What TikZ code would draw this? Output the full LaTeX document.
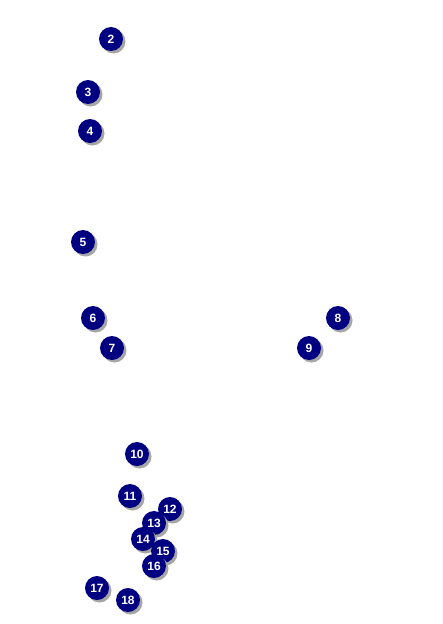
\documentclass[tikz,border=0pt]{standalone}
\usepackage{fontspec}
\setmainfont{Liberation Sans}
\usetikzlibrary{shadows}
\definecolor{ballblue}{HTML}{000080}

\begin{document}
\begin{tikzpicture}[x=1pt,y=-1pt,
  ball/.style={circle,fill=ballblue,text=white,inner sep=0pt,minimum size=24pt,font=\fontsize{12}{12}\selectfont\bfseries,drop shadow={shadow xshift=2.5pt,shadow yshift=-2.5pt,fill=black!35,opacity=1}}]
\useasboundingbox[fill=white] (0,0) rectangle (442,624);
\foreach \n/\x/\y in {2/111/39,3/88/92,4/90/131,5/83/242,6/93/318,7/112/348,8/338/318,9/309/348,10/137/454,11/130/496,12/170/509,13/154/523,14/143/539,15/163/551,16/154/566,17/97/588,18/128/600}
  \node[ball] (b\n) at (\x,\y) {\n};
\end{tikzpicture}
\end{document}
